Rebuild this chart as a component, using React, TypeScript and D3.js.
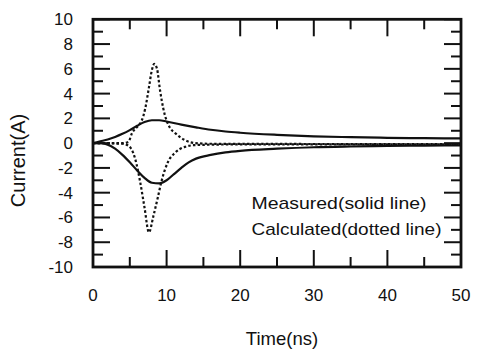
import * as d3 from "d3";

const measuredPosT = [0, 1, 2, 3, 4, 5, 6, 7, 8, 9, 10, 12, 14, 16, 18, 20, 25, 30, 35, 40, 45, 50];
const measuredPosI = [0, 0.15, 0.3, 0.5, 0.75, 1.05, 1.4, 1.7, 1.85, 1.85, 1.75, 1.5, 1.28, 1.08, 0.94, 0.84, 0.67, 0.55, 0.48, 0.43, 0.4, 0.38];

const measuredNegT = [0, 1, 2, 3, 4, 5, 6, 7, 8, 9, 10, 11, 12, 13, 14, 16, 18, 20, 25, 30, 35, 40, 45, 50];
const measuredNegI = [0, 0, -0.12, -0.45, -0.95, -1.55, -2.2, -2.8, -3.2, -3.25, -3.0, -2.5, -2.0, -1.55, -1.25, -0.95, -0.75, -0.62, -0.45, -0.33, -0.27, -0.23, -0.2, -0.18];

const calcPosT = [0, 4, 4.8, 5.3, 6.2, 6.6, 7.1, 7.6, 8.0, 8.33, 8.7, 9.1, 9.55, 10.5, 11.1, 12.5, 13.9, 16, 50];
const calcPosI = [0, 0, 0.1, 0.8, 1.45, 1.8, 2.8, 4.5, 5.9, 6.4, 6.0, 4.3, 2.8, 1.2, 0.85, 0.24, 0, -0.05, -0.08];

const calcNegT = [0, 4, 4.8, 5.7, 6.4, 7.0, 7.6, 8.2, 8.8, 9.3, 10.2, 11.1, 12.5, 14, 20, 50];
const calcNegI = [0, -0.05, -0.2, -1.2, -3.1, -5.2, -7.2, -5.9, -4.4, -3.1, -1.5, -0.8, -0.3, -0.15, -0.1, -0.1];

const xMajor = [0, 10, 20, 30, 40, 50];
const xMinor = [5, 15, 25, 35, 45];
const yMajor = [-10, -8, -6, -4, -2, 0, 2, 4, 6, 8, 10];
const yMinor = [-9, -7, -5, -3, -1, 1, 3, 5, 7, 9];

const FONT = "'Liberation Sans', Arial, Helvetica, sans-serif";

export default function App() {
  const width = 478;
  const height = 349;
  const plot = { left: 93, right: 461, top: 19.3, bottom: 267 };

  const x = d3.scaleLinear().domain([0, 50]).range([plot.left, plot.right]);
  const y = d3.scaleLinear().domain([-10, 10]).range([plot.bottom, plot.top]);

  const line = d3
    .line<[number, number]>()
    .x((d) => x(d[0]))
    .y((d) => y(d[1]))
    .curve(d3.curveMonotoneX);

  const zip = (t: number[], v: number[]) => t.map((d, i) => [d, v[i]] as [number, number]);

  const MAJ = 17;
  const MIN = 10;

  return (
    <svg width={width} height={height} style={{ position: "absolute", left: 0, top: 0, background: "#fff" }}>
      {/* curves */}
      <g fill="none" stroke="#111">
        <path d={line(zip(measuredPosT, measuredPosI)) || ""} strokeWidth={2.2} />
        <path d={line(zip(measuredNegT, measuredNegI)) || ""} strokeWidth={2.2} />
        <path d={line(zip(calcPosT, calcPosI)) || ""} strokeWidth={2.2} strokeDasharray="2.5,2.2" />
        <path d={line(zip(calcNegT, calcNegI)) || ""} strokeWidth={2.2} strokeDasharray="2.5,2.2" />
      </g>

      {/* ticks */}
      <g stroke="#111" strokeWidth={2}>
        {xMajor.map((t) => (
          <g key={"xM" + t}>
            <line x1={x(t)} x2={x(t)} y1={plot.bottom} y2={plot.bottom - MAJ} />
            <line x1={x(t)} x2={x(t)} y1={plot.top} y2={plot.top + MAJ} />
          </g>
        ))}
        {xMinor.map((t) => (
          <g key={"xm" + t}>
            <line x1={x(t)} x2={x(t)} y1={plot.bottom} y2={plot.bottom - MIN} />
            <line x1={x(t)} x2={x(t)} y1={plot.top} y2={plot.top + MIN} />
          </g>
        ))}
        {yMajor.map((v) => (
          <g key={"yM" + v}>
            <line x1={plot.left} x2={plot.left + MAJ} y1={y(v)} y2={y(v)} />
            <line x1={plot.right} x2={plot.right - MAJ} y1={y(v)} y2={y(v)} />
          </g>
        ))}
        {yMinor.map((v) => (
          <g key={"ym" + v}>
            <line x1={plot.left} x2={plot.left + MIN} y1={y(v)} y2={y(v)} />
            <line x1={plot.right} x2={plot.right - MIN} y1={y(v)} y2={y(v)} />
          </g>
        ))}
      </g>

      {/* frame */}
      <rect
        x={plot.left}
        y={plot.top}
        width={plot.right - plot.left}
        height={plot.bottom - plot.top}
        fill="none"
        stroke="#111"
        strokeWidth={2.8}
      />

      {/* tick labels */}
      <g fontFamily={FONT} fontSize={17} fill="#111">
        {yMajor.map((v) => (
          <text key={"yl" + v} x={73} y={y(v) + 6} textAnchor="end">
            {v}
          </text>
        ))}
        {xMajor.map((t) => (
          <text key={"xl" + t} x={x(t)} y={301} textAnchor="middle">
            {t}
          </text>
        ))}
      </g>

      {/* axis titles */}
      <text x={282} y={345} fontFamily={FONT} fontSize={18.5} textAnchor="middle" fill="#111">
        Time(ns)
      </text>
      <text
        transform="translate(25,160.5) rotate(-90)"
        fontFamily={FONT}
        fontSize={20}
        textAnchor="middle"
        fill="#111"
      >
        Current(A)
      </text>

      {/* legend notes */}
      <g fontFamily={FONT} fontSize={17} fill="#111">
        <text x={251.5} y={209.3} textLength={175} lengthAdjust="spacingAndGlyphs">
          Measured(solid line)
        </text>
        <text x={251.5} y={235} textLength={190} lengthAdjust="spacingAndGlyphs">
          Calculated(dotted line)
        </text>
      </g>
    </svg>
  );
}
